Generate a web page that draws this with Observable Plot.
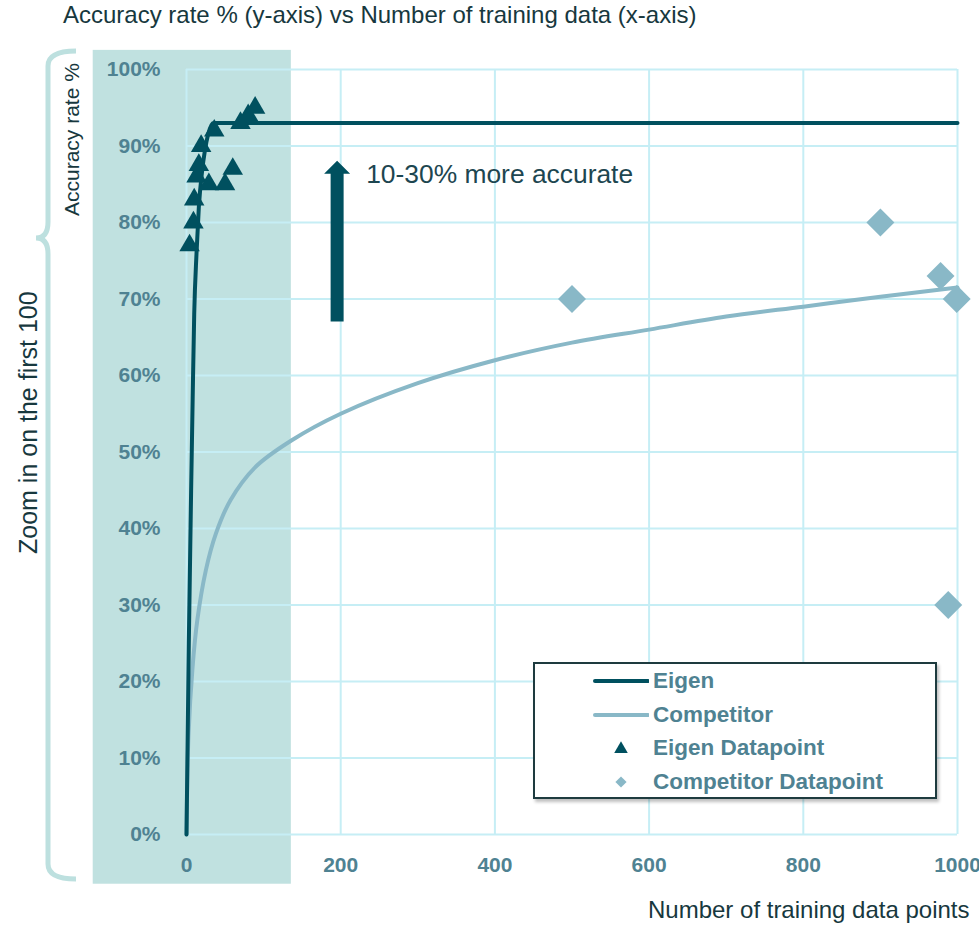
<!DOCTYPE html>
<html>
<head>
<meta charset="utf-8">
<script src="https://cdn.jsdelivr.net/npm/d3@7"></script>
<script src="https://cdn.jsdelivr.net/npm/@observablehq/plot@0.6"></script>
<style>
  html, body { margin: 0; padding: 0; background: #fff; }
  #wrap { position: relative; width: 979px; height: 927px; overflow: hidden; }
  #chart { position: absolute; left: 0; top: 0; }
  .txt { font-family: "Liberation Sans", Arial, sans-serif; line-height: normal; }
  #title { position: absolute; left: 63px; top: 1px; font-size: 24px; color: #17383e; white-space: nowrap; }
  #xlabel { position: absolute; left: 648px; top: 896px; font-size: 24px; color: #17383e; white-space: nowrap; }
  .vtext { position: absolute; white-space: nowrap; color: #17383e; transform-origin: 0 0; }
  #legend { position: absolute; left: 533px; top: 662px; width: 400px; height: 133px; border: 2px solid #1e3b3f;
            background: #fff; box-shadow: 2px 3px 3px rgba(0,0,0,0.25); font-family: "Liberation Sans", Arial, sans-serif; }
  #legend .row { position: absolute; left: 0; height: 30px; width: 400px; }
  #legend .lbl { position: absolute; left: 118px; top: 0; font-size: 22.5px; font-weight: bold; color: #4f8292; line-height: 30px; white-space: nowrap; }
  #legend svg { position: absolute; left: 58px; top: 0; }
</style>
</head>
<body>
<div id="wrap">
  <div id="chart"></div>
  <div id="title" class="txt">Accuracy rate % (y-axis) vs Number of training data (x-axis)</div>
  <div id="xlabel" class="txt">Number of training data points</div>
  <svg id="brace" width="100" height="927" style="position:absolute;left:0;top:0"></svg>
  <div id="vt1" class="vtext txt" style="font-size:21px">Accuracy rate %</div>
  <div id="vt2" class="vtext txt" style="font-size:25px">Zoom in on the first 100</div>
  <div id="legend"></div>
</div>
<script>
// ---------- data ----------
const xTicks = [0, 200, 400, 600, 800, 1000];
const yTicks = [0, 10, 20, 30, 40, 50, 60, 70, 80, 90, 100];

// Eigen fitted curve (x = training points, y = accuracy %)
const eigenCurveX = [0, 3, 6, 8, 10, 13, 16, 20, 24, 28, 35, 1000];
const eigenCurveY = [0, 25, 45, 57, 68, 76, 82, 86.5, 89.5, 91.5, 93, 93];

// Competitor fitted curve
const compCurveX = [0, 2.6, 7.8, 14, 25, 38, 57, 89, 136, 200, 300, 400, 500, 600, 700, 800, 900, 1000];
const compCurveY = [0, 13, 21.8, 28, 34.5, 39.3, 43.7, 48, 51.5, 55, 59, 62, 64.3, 66, 67.7, 69, 70.3, 71.5];

// Eigen datapoints
const eigenPtX = [4, 9, 10, 13, 16, 19, 36, 29, 50, 60, 70, 80, 89];
const eigenPtY = [77, 80, 83, 86, 87.5, 90, 92, 85, 85, 87, 93, 94, 95];

// Competitor datapoints
const compPtX = [500, 900, 978, 999, 988];
const compPtY = [70, 80, 73, 70, 30];

// "zoom" highlight region (data units)
const shadeX = [-121, 136];
const shadeY = [-6.5, 102.5];

// annotation
const arrowX = 196;
const arrowFrom = 67;
const arrowTo = 88;
const noteText = "10-30% more accurate";
const noteX = 233;
const noteY = 86.3;

const seriesNames = ["Eigen", "Competitor", "Eigen Datapoint", "Competitor Datapoint"];

// ---------- styles ----------
const EIGEN = "#00505f";
const COMP = "#89b8c7";
const SHADE = "#c0e1e0";
const GRID = "#c6eef5";
const TICK = "#4f8292";

const eigenCurve = eigenCurveX.map((x, i) => ({x, y: eigenCurveY[i]}));
const compCurve = compCurveX.map((x, i) => ({x, y: compCurveY[i]}));
const eigenPts = eigenPtX.map((x, i) => ({x, y: eigenPtY[i]}));
const compPts = compPtX.map((x, i) => ({x, y: compPtY[i]}));

const arrowMark = (index, scales) => {
  const x = scales.x(arrowX), y0 = scales.y(arrowFrom), y1 = scales.y(arrowTo);
  const sw = 6.5, hw = 13, hh = 13;
  const p = d3.create("svg:path")
    .attr("fill", EIGEN)
    .attr("d", `M${x - sw},${y0} L${x - sw},${y1 + hh} L${x - hw},${y1 + hh} L${x},${y1} L${x + hw},${y1 + hh} L${x + sw},${y1 + hh} L${x + sw},${y0} Z`);
  return p.node();
};

const chart = Plot.plot({
  width: 979,
  height: 927,
  marginLeft: 186,
  marginRight: 22,
  marginTop: 69,
  marginBottom: 93,
  style: {fontFamily: "'Liberation Sans', Arial, sans-serif", background: "transparent", overflow: "visible"},
  x: {domain: [0, 1000], label: null},
  y: {domain: [0, 100], label: null},
  marks: [
    Plot.rect([{}], {x1: () => shadeX[0], x2: () => shadeX[1], y1: () => shadeY[0], y2: () => shadeY[1], fill: SHADE}),
    Plot.gridX(xTicks, {stroke: GRID, strokeOpacity: 1, strokeWidth: 2}),
    Plot.gridY(yTicks, {stroke: GRID, strokeOpacity: 1, strokeWidth: 2}),
    Plot.axisX(xTicks, {tickSize: 0, tickPadding: 23, fontSize: 21, fontWeight: "bold", fill: TICK, label: null, tickFormat: d => String(d)}),
    Plot.axisY(yTicks, {tickSize: 0, tickPadding: 26, fontSize: 21, fontWeight: "bold", fill: TICK, label: null, tickFormat: d => d + "%"}),
    Plot.line(compCurve, {x: "x", y: "y", stroke: COMP, strokeWidth: 4, curve: "catmull-rom"}),
    Plot.line(eigenCurve, {x: "x", y: "y", stroke: EIGEN, strokeWidth: 4, curve: "monotone-x"}),
    arrowMark,
    Plot.text([noteText], {x: () => noteX, y: () => noteY, text: d => d, textAnchor: "start", fontSize: 26.4, fill: "#1d4650"}),
    Plot.dot(compPts, {x: "x", y: "y", symbol: "diamond2", r: 12.6, fill: COMP, stroke: "none"}),
    Plot.dot(eigenPts, {x: "x", y: "y", symbol: "triangle", r: 7.6, fill: EIGEN, stroke: "none"})
  ]
});
document.getElementById("chart").appendChild(chart);

// brace
const braceSvg = d3.select("#brace");
braceSvg.append("path")
  .attr("d", "M76,51 Q48,51 48,66 L48,222 Q48,238 36,238 Q48,238 48,254 L48,864 Q48,879 76,879")
  .attr("fill", "none").attr("stroke", "#bde0df").attr("stroke-width", 5).attr("stroke-linecap", "butt");

// rotated texts
function placeVertical(id, cx, cy) {
  const el = document.getElementById(id);
  const w = el.offsetWidth, h = el.offsetHeight;
  el.style.left = (cx - h / 2) + "px";
  el.style.top = (cy + w / 2) + "px";
  el.style.transform = "rotate(-90deg)";
}
placeVertical("vt1", 72, 139);
placeVertical("vt2", 28, 422);

// legend
const leg = d3.select("#legend");
seriesNames.forEach((name, i) => {
  const row = leg.append("div").attr("class", "row").style("top", (2 + i * 33.5) + "px");
  const s = row.append("svg").attr("width", 56).attr("height", 30);
  if (i === 0) s.append("line").attr("x1", 2).attr("x2", 55).attr("y1", 15).attr("y2", 15).attr("stroke", EIGEN).attr("stroke-width", 4).attr("stroke-linecap", "round");
  if (i === 1) s.append("line").attr("x1", 2).attr("x2", 55).attr("y1", 15).attr("y2", 15).attr("stroke", COMP).attr("stroke-width", 4).attr("stroke-linecap", "round");
  if (i === 2) s.append("path").attr("transform", "translate(28,16)").attr("d", d3.symbol(d3.symbolTriangle, 80)()).attr("fill", EIGEN);
  if (i === 3) s.append("path").attr("transform", "translate(28,15)").attr("d", d3.symbol(d3.symbolDiamond2, 80)()).attr("fill", COMP);
  row.append("div").attr("class", "lbl").text(name);
});
</script>
</body>
</html>
